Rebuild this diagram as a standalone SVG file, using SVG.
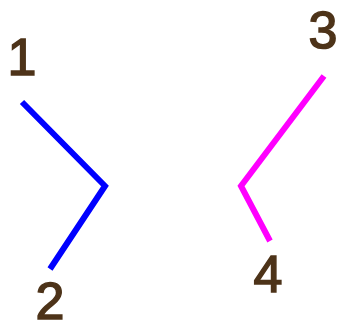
<svg xmlns="http://www.w3.org/2000/svg" width="341" height="330" viewBox="0 0 341 330">
<style>
.lbl{font-family:"Liberation Sans",Arial,sans-serif;font-size:52px;fill:#4d3319;stroke:#4d3319;stroke-width:1.5;text-anchor:middle}
.ln{fill:none;stroke-width:6;stroke-linejoin:miter;stroke-linecap:butt}
</style>
<rect width="341" height="330" fill="#ffffff"/>
<g id="connectors">
<polyline class="ln" stroke="#0000ff" points="22,102 105,186 50,269"/>
<polyline class="ln" stroke="#ff00ff" points="324,76 241,186 270,241"/>
</g>
<g id="n1"><text class="lbl" x="22" y="75">1</text></g>
<g id="n2"><text class="lbl" x="50" y="319">2</text></g>
<g id="n3"><text class="lbl" x="323" y="48">3</text></g>
<g id="n4"><text class="lbl" x="268" y="292">4</text></g>
</svg>
